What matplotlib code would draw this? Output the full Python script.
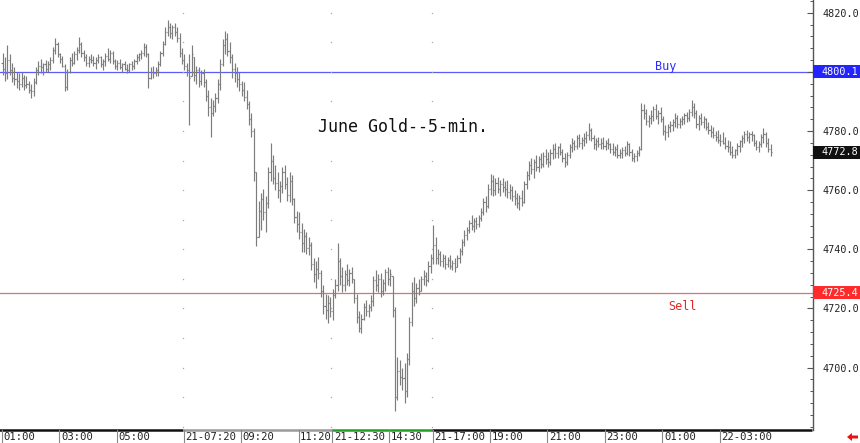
import matplotlib
matplotlib.use("Agg")
import numpy as np
import matplotlib.pyplot as plt
from matplotlib.collections import LineCollection
from matplotlib.patches import Rectangle, Polygon
from matplotlib.transforms import blended_transform_factory
from matplotlib.ticker import MultipleLocator

# June Gold 5-min bars (high / low / close)
highs = [
    4806.5, 4805.0, 4809.0, 4806.0, 4803.0, 4801.5, 4800.0, 4799.5, 4800.0, 4799.0,
    4798.5, 4797.0, 4796.0, 4798.0, 4801.5, 4803.5, 4804.5, 4803.0, 4804.0, 4803.5,
    4805.0, 4808.5, 4811.5, 4810.0, 4806.5, 4805.5, 4802.5, 4801.0, 4805.0, 4806.5,
    4807.0, 4808.5, 4811.8, 4810.0, 4807.5, 4806.0, 4805.5, 4806.0, 4805.5, 4805.0,
    4806.0, 4805.5, 4804.5, 4806.5, 4808.0, 4807.5, 4807.0, 4804.5, 4804.0, 4804.5,
    4803.0, 4803.5, 4802.5, 4803.0, 4803.5, 4804.5, 4806.0, 4806.5, 4807.5, 4809.8,
    4809.5, 4806.5, 4801.5, 4802.0, 4801.5, 4803.5, 4807.0, 4810.5, 4815.0, 4817.6,
    4816.5, 4816.0, 4816.5, 4815.0, 4813.0, 4808.0, 4806.0, 4803.0, 4806.0, 4809.0,
    4805.0, 4802.0, 4801.5, 4800.5, 4801.0, 4797.5, 4794.0, 4791.0, 4790.5, 4793.0,
    4797.5, 4804.5, 4811.0, 4813.8, 4813.0, 4810.0, 4806.0, 4803.0, 4801.5, 4800.0,
    4797.0, 4796.5, 4794.0, 4790.0, 4786.0, 4781.0, 4766.0, 4756.5, 4759.0, 4760.5,
    4758.0, 4768.0, 4776.0, 4772.0, 4768.5, 4766.0, 4763.0, 4768.0, 4768.5, 4764.5,
    4766.0, 4765.0, 4757.5, 4753.0, 4752.5, 4749.0, 4747.0, 4746.0, 4744.0, 4742.5,
    4737.0, 4736.0, 4737.5, 4733.0, 4728.0, 4725.0, 4724.5, 4724.0, 4726.5, 4730.0,
    4742.0, 4737.0, 4734.0, 4733.0, 4735.0, 4733.5, 4734.0, 4730.0, 4725.0, 4719.0,
    4718.0, 4722.0, 4723.0, 4721.5, 4724.5, 4731.0, 4733.0, 4731.5, 4732.0, 4730.0,
    4733.5, 4734.0, 4733.5, 4731.0, 4720.5, 4703.5, 4702.5, 4700.0, 4701.5, 4705.0,
    4717.0, 4729.0, 4730.5, 4728.5, 4730.0, 4731.0, 4733.0, 4732.5, 4736.0, 4738.5,
    4748.3, 4744.0, 4740.0, 4739.5, 4738.5, 4738.0, 4737.5, 4738.0, 4736.5, 4737.0,
    4738.0, 4740.5, 4743.5, 4746.5, 4747.5, 4750.0, 4751.5, 4750.5, 4751.0, 4751.5,
    4754.0, 4757.5, 4758.0, 4762.0, 4765.5, 4765.0, 4764.0, 4764.5, 4763.5, 4764.0,
    4763.0, 4763.5, 4762.0, 4761.5, 4760.0, 4759.0, 4758.5, 4760.0, 4763.0, 4766.5,
    4770.0, 4771.0, 4770.5, 4772.0, 4771.5, 4772.5, 4773.0, 4774.0, 4773.0, 4774.0,
    4775.5, 4776.0, 4775.0, 4776.0, 4774.0, 4772.5, 4773.0, 4775.5, 4777.5, 4777.0,
    4778.5, 4779.0, 4778.0, 4779.3, 4780.0, 4782.7, 4781.0, 4778.5, 4777.5, 4778.0,
    4777.5, 4778.0, 4777.0, 4777.5, 4776.0, 4776.0, 4775.0, 4775.5, 4774.0, 4774.5,
    4775.0, 4776.5, 4776.0, 4774.0, 4772.5, 4773.5, 4775.0, 4789.5, 4789.0, 4787.5,
    4785.5, 4787.0, 4788.5, 4789.0, 4787.0, 4788.0, 4785.0, 4782.0, 4782.5, 4783.5,
    4784.0, 4786.0, 4785.5, 4784.5, 4785.0, 4786.0, 4786.5, 4787.5, 4790.5, 4789.5,
    4787.0, 4785.5, 4786.0, 4785.0, 4784.5, 4783.0, 4782.0, 4781.5, 4780.0, 4780.5,
    4779.0, 4779.5, 4778.0, 4777.0, 4776.5, 4775.0, 4774.0, 4776.0, 4777.0, 4778.5,
    4780.0, 4780.3, 4779.5, 4780.0, 4779.0, 4777.0, 4776.5, 4779.0, 4781.0, 4779.5,
    4777.5, 4775.5,
]
lows = [
    4799.0, 4797.0, 4797.5, 4799.0, 4796.5, 4795.5, 4794.5, 4794.0, 4795.0, 4794.0,
    4794.5, 4793.0, 4791.0, 4792.0, 4796.0, 4799.0, 4799.5, 4799.0, 4800.0, 4800.0,
    4800.5, 4803.0, 4806.0, 4805.0, 4803.0, 4801.5, 4793.5, 4794.0, 4799.5, 4802.0,
    4802.5, 4804.0, 4806.5, 4805.0, 4803.5, 4802.0, 4801.5, 4803.0, 4802.0, 4801.0,
    4803.0, 4801.5, 4800.5, 4802.0, 4803.5, 4803.0, 4802.5, 4801.0, 4800.5, 4801.0,
    4800.0, 4800.5, 4799.5, 4800.0, 4800.5, 4801.0, 4802.5, 4803.5, 4804.5, 4805.5,
    4805.0, 4794.5, 4797.5, 4798.0, 4798.5, 4798.5, 4802.0, 4805.5, 4809.0, 4812.0,
    4811.5, 4811.0, 4812.0, 4810.0, 4805.0, 4802.5, 4800.5, 4798.5, 4782.0, 4798.5,
    4797.0, 4796.0, 4795.0, 4795.5, 4795.0, 4790.0, 4785.0, 4778.0, 4785.0, 4786.5,
    4789.5, 4794.0, 4802.0, 4806.0, 4805.5, 4803.0, 4798.0, 4796.5, 4795.0, 4793.5,
    4792.0, 4790.0, 4787.5, 4782.0, 4778.0, 4763.0, 4741.0, 4744.0, 4746.5, 4750.0,
    4746.0, 4754.0, 4763.0, 4762.0, 4760.0, 4757.5, 4756.0, 4759.0, 4760.5, 4756.5,
    4756.0, 4755.0, 4749.0, 4746.0, 4743.5, 4739.0, 4739.0, 4738.5, 4738.0, 4733.0,
    4729.0, 4727.0, 4730.0, 4724.0, 4718.0, 4716.5, 4715.0, 4717.0, 4716.0, 4723.5,
    4726.0, 4728.0, 4725.5, 4726.0, 4728.0, 4727.5, 4728.5, 4722.0, 4715.0, 4712.0,
    4711.7, 4716.0, 4717.5, 4717.0, 4719.0, 4721.0, 4726.0, 4725.5, 4724.0, 4724.5,
    4726.0, 4728.0, 4727.5, 4717.0, 4685.4, 4689.0, 4694.0, 4692.5, 4688.0, 4690.0,
    4701.0, 4714.0, 4721.0, 4722.0, 4724.5, 4726.0, 4728.0, 4727.5, 4729.0, 4732.0,
    4735.0, 4735.0, 4735.0, 4734.5, 4734.0, 4733.5, 4734.0, 4733.5, 4733.0, 4732.5,
    4734.0, 4735.5, 4738.0, 4741.0, 4743.0, 4745.5, 4746.5, 4746.0, 4747.0, 4747.5,
    4749.5, 4751.5, 4752.5, 4754.0, 4758.5, 4758.0, 4758.5, 4759.0, 4758.0, 4759.5,
    4758.0, 4757.5, 4757.0, 4756.5, 4755.0, 4754.0, 4753.3, 4754.5, 4755.5, 4760.5,
    4763.5, 4765.5, 4764.0, 4766.5, 4766.0, 4767.5, 4768.0, 4769.0, 4767.8, 4768.5,
    4770.5, 4771.0, 4771.0, 4772.0, 4769.5, 4767.8, 4768.5, 4771.0, 4773.0, 4773.5,
    4774.0, 4774.5, 4774.0, 4775.0, 4776.0, 4777.0, 4776.5, 4774.0, 4773.6, 4774.5,
    4774.0, 4774.0, 4773.5, 4774.0, 4772.5, 4772.0, 4771.5, 4771.0, 4770.9, 4771.0,
    4771.5, 4772.0, 4771.5, 4770.0, 4769.5, 4770.0, 4771.5, 4773.5, 4784.0, 4782.0,
    4781.4, 4782.5, 4783.5, 4784.0, 4782.5, 4783.0, 4778.5, 4777.0, 4778.0, 4779.5,
    4780.0, 4781.5, 4781.0, 4781.0, 4782.0, 4782.5, 4783.0, 4783.5, 4785.0, 4784.5,
    4781.0, 4780.3, 4782.0, 4781.0, 4780.5, 4779.0, 4778.0, 4777.5, 4776.5, 4776.0,
    4775.0, 4775.5, 4774.0, 4773.0, 4772.0, 4771.0, 4770.9, 4772.0, 4773.0, 4774.5,
    4776.0, 4776.5, 4776.0, 4776.5, 4775.0, 4773.5, 4773.0, 4774.5, 4776.0, 4774.5,
    4773.0, 4771.5,
]
closes = [
    4801.0, 4799.5, 4804.0, 4800.5, 4798.0, 4797.5, 4797.0, 4796.0, 4798.0, 4795.5,
    4796.0, 4794.0, 4793.5, 4796.5, 4800.5, 4802.0, 4801.5, 4802.5, 4801.0, 4802.5,
    4804.0, 4807.5, 4809.5, 4806.0, 4804.5, 4802.0, 4795.0, 4800.0, 4804.0, 4803.0,
    4806.0, 4807.5, 4809.5, 4806.5, 4805.0, 4803.0, 4804.5, 4804.0, 4803.0, 4804.0,
    4805.0, 4802.5, 4803.5, 4805.5, 4804.5, 4806.5, 4803.5, 4802.0, 4803.0, 4801.5,
    4802.5, 4801.0, 4800.5, 4802.5, 4802.0, 4803.5, 4805.0, 4806.0, 4806.5, 4808.5,
    4806.0, 4798.0, 4800.0, 4799.5, 4800.5, 4802.5, 4806.5, 4809.5, 4813.5, 4815.0,
    4813.0, 4815.0, 4813.5, 4811.5, 4806.5, 4804.0, 4802.0, 4800.5, 4798.0, 4806.0,
    4799.0, 4800.5, 4797.0, 4799.5, 4796.5, 4792.0, 4788.0, 4786.0, 4788.5, 4791.0,
    4796.0, 4802.5, 4809.0, 4811.0, 4807.0, 4805.0, 4801.0, 4799.5, 4797.5, 4796.0,
    4794.0, 4791.5, 4789.0, 4784.0, 4780.0, 4766.0, 4744.0, 4753.0, 4757.0, 4752.5,
    4755.5, 4766.0, 4770.0, 4764.0, 4762.5, 4760.0, 4761.5, 4766.0, 4762.0, 4758.5,
    4763.0, 4757.0, 4751.0, 4748.5, 4746.0, 4742.0, 4744.5, 4740.5, 4741.5, 4735.0,
    4731.5, 4733.5, 4732.0, 4726.0, 4721.0, 4719.5, 4722.0, 4719.0, 4724.5, 4728.0,
    4736.0, 4731.0, 4728.0, 4731.5, 4729.5, 4732.0, 4730.0, 4723.5, 4717.0, 4713.5,
    4716.5, 4720.5, 4719.0, 4720.5, 4722.5, 4729.5, 4728.0, 4730.0, 4726.0, 4728.5,
    4732.5, 4730.0, 4731.5, 4719.5, 4690.0, 4699.0, 4697.0, 4696.5, 4692.0, 4703.0,
    4715.5, 4726.0, 4723.5, 4727.0, 4726.0, 4730.0, 4731.0, 4729.5, 4734.5, 4737.0,
    4741.5, 4737.0, 4738.5, 4736.0, 4737.0, 4735.0, 4736.5, 4734.5, 4735.5, 4734.0,
    4737.0, 4739.5, 4742.5, 4745.0, 4746.5, 4749.0, 4748.0, 4749.5, 4748.5, 4750.5,
    4752.5, 4756.0, 4754.5, 4760.5, 4763.0, 4760.0, 4762.5, 4760.5, 4762.0, 4761.0,
    4760.5, 4759.5, 4760.0, 4758.0, 4757.5, 4755.5, 4757.5, 4756.0, 4762.0, 4765.0,
    4768.5, 4767.0, 4769.5, 4768.0, 4770.5, 4769.0, 4771.5, 4770.5, 4769.5, 4772.5,
    4774.0, 4772.5, 4774.5, 4773.0, 4771.0, 4769.5, 4772.0, 4774.5, 4776.0, 4775.0,
    4777.5, 4776.0, 4777.0, 4777.5, 4778.5, 4780.5, 4777.5, 4775.5, 4776.5, 4775.5,
    4776.0, 4775.0, 4776.0, 4775.5, 4774.0, 4773.0, 4774.0, 4772.0, 4772.5, 4773.5,
    4772.5, 4775.5, 4773.0, 4771.0, 4771.5, 4772.5, 4774.0, 4787.0, 4786.0, 4783.5,
    4784.5, 4785.0, 4787.5, 4785.0, 4786.0, 4784.0, 4780.0, 4779.5, 4781.5, 4782.0,
    4783.0, 4784.5, 4782.5, 4783.5, 4784.0, 4785.5, 4784.5, 4786.5, 4788.0, 4786.0,
    4782.5, 4784.5, 4783.0, 4784.0, 4781.5, 4780.5, 4779.5, 4778.5, 4778.0, 4777.0,
    4776.5, 4776.0, 4775.0, 4774.5, 4773.0, 4772.0, 4773.5, 4775.0, 4776.5, 4777.5,
    4779.0, 4778.0, 4779.0, 4778.5, 4776.0, 4774.5, 4775.5, 4778.0, 4779.0, 4776.0,
    4774.0, 4772.8,
]
first_open = 4803.0

tick_pos = [0, 24, 48, 76, 100, 124, 138, 162, 180, 204, 228, 252, 276, 300]
tick_labels = ["01:00", "03:00", "05:00", "21-07:20", "09:20", "11:20", "21-12:30",
               "14:30", "21-17:00", "19:00", "21:00", "23:00", "01:00", "22-03:00"]
session_starts = [76, 138, 180]
session_colors = ["#111111", "#9a9a9a", "#22a022", "#111111"]
y_ticks = [4700, 4720, 4740, 4760, 4780, 4800, 4820]

buy_level = 4800.1
sell_level = 4725.4
last_price = 4772.8
title = "June Gold--5-min."

W, H = 860, 443
fig = plt.figure(figsize=(W / 100, H / 100), dpi=100)
ax = fig.add_axes([0, 13 / H, 813 / W, 430 / H])
x0, x1 = -1.045, 338.7
ax.set_xlim(x0, x1)
ax.set_ylim(4678.92, 4824.29)

n = len(closes)
idx = np.arange(n)
opens = np.clip([first_open] + closes[:-1], lows, highs)

segs = []
for i in range(n):
    segs.append([(i, lows[i]), (i, highs[i])])
    segs.append([(i - 0.45, opens[i]), (i, opens[i])])
    segs.append([(i, closes[i]), (i + 0.45, closes[i])])
ax.add_collection(LineCollection(segs, colors="#7c7c7c", linewidths=0.85))

# buy / sell levels
ax.axhline(buy_level, color="#5a5aff", lw=0.9, zorder=1)
ax.axhline(sell_level, color="#dd7070", lw=0.9, zorder=1)
ax.text(272.7, buy_level + 1.8, "Buy", color="#2c2cff", fontsize=8.5,
        family="DejaVu Sans Mono", ha="left", va="center")
ax.text(278.1, sell_level - 4.6, "Sell", color="#e02828", fontsize=8.5,
        family="DejaVu Sans Mono", ha="left", va="center")

# session separators (dotted)
lv = np.arange(4680, 4825, 10)
for s in session_starts:
    ax.plot([s - 0.6] * len(lv), lv, ls="none", marker="s", ms=0.9,
            color="#a8a8a8", mec="none")

ax.text(318 / 813 * (x1 - x0) + x0, 4820 - (127 - 12.7) / 2.958, title,
        fontsize=12, family="DejaVu Sans Mono", ha="left", va="center", color="#111")

# axes styling
for sp in ["left", "top", "bottom"]:
    ax.spines[sp].set_visible(False)
ax.spines["right"].set_color("#555555")
ax.spines["right"].set_linewidth(1.0)
ax.yaxis.tick_right()
ax.set_yticks(y_ticks)
ax.set_yticklabels([f"{v:.1f}" for v in y_ticks], family="DejaVu Sans Mono")
ax.yaxis.set_minor_locator(MultipleLocator(4))
ax.tick_params(axis="y", which="major", direction="in", length=4, width=0.8,
               pad=7, labelsize=7.3, color="#555555", labelcolor="#222222")
ax.tick_params(axis="y", which="minor", direction="in", length=2, width=0.7,
               color="#555555")
ax.set_xticks([])

# bottom axis line, coloured by session
bt = blended_transform_factory(ax.transData, ax.transAxes)
bounds = [x0] + session_starts + [x1]
for k in range(len(bounds) - 1):
    ax.plot([bounds[k] - 0.6, bounds[k + 1] - 0.6], [0, 0], color=session_colors[k],
            lw=1.8, transform=bt, clip_on=False, solid_capstyle="butt")

for p, lab in zip(tick_pos, tick_labels):
    ax.plot([p - 0.3, p - 0.3], [0, -13 / 430], color="#888888", lw=0.8,
            transform=bt, clip_on=False)
    ax.text(p + 0.4, -7 / 430, lab, transform=bt, fontsize=7.6,
            family="DejaVu Sans Mono", ha="left", va="center", color="#222222")

# price boxes on the right
rt = blended_transform_factory(fig.transFigure, ax.transData)
for price, bg in [(buy_level, "#2424ff"), (last_price, "#111111"), (sell_level, "#ff2a2a")]:
    fig.add_artist(Rectangle((813 / W, price - 2.2), 47 / W, 4.4, transform=rt,
                             facecolor=bg, edgecolor="none", zorder=5))
    fig.text(822 / W, price, f"{price:.1f}", transform=rt, color="white",
             fontsize=7.3, family="DejaVu Sans Mono", ha="left", va="center",
             zorder=6)

# small red arrow bottom right
arrow = Polygon([(8.47, 0.06), (8.52, 0.10), (8.52, 0.075), (8.58, 0.075),
                 (8.58, 0.045), (8.52, 0.045), (8.52, 0.02)], closed=True,
                transform=fig.dpi_scale_trans, facecolor="#ee1111", edgecolor="none")
fig.add_artist(arrow)

fig.savefig("out.png", dpi=100)
